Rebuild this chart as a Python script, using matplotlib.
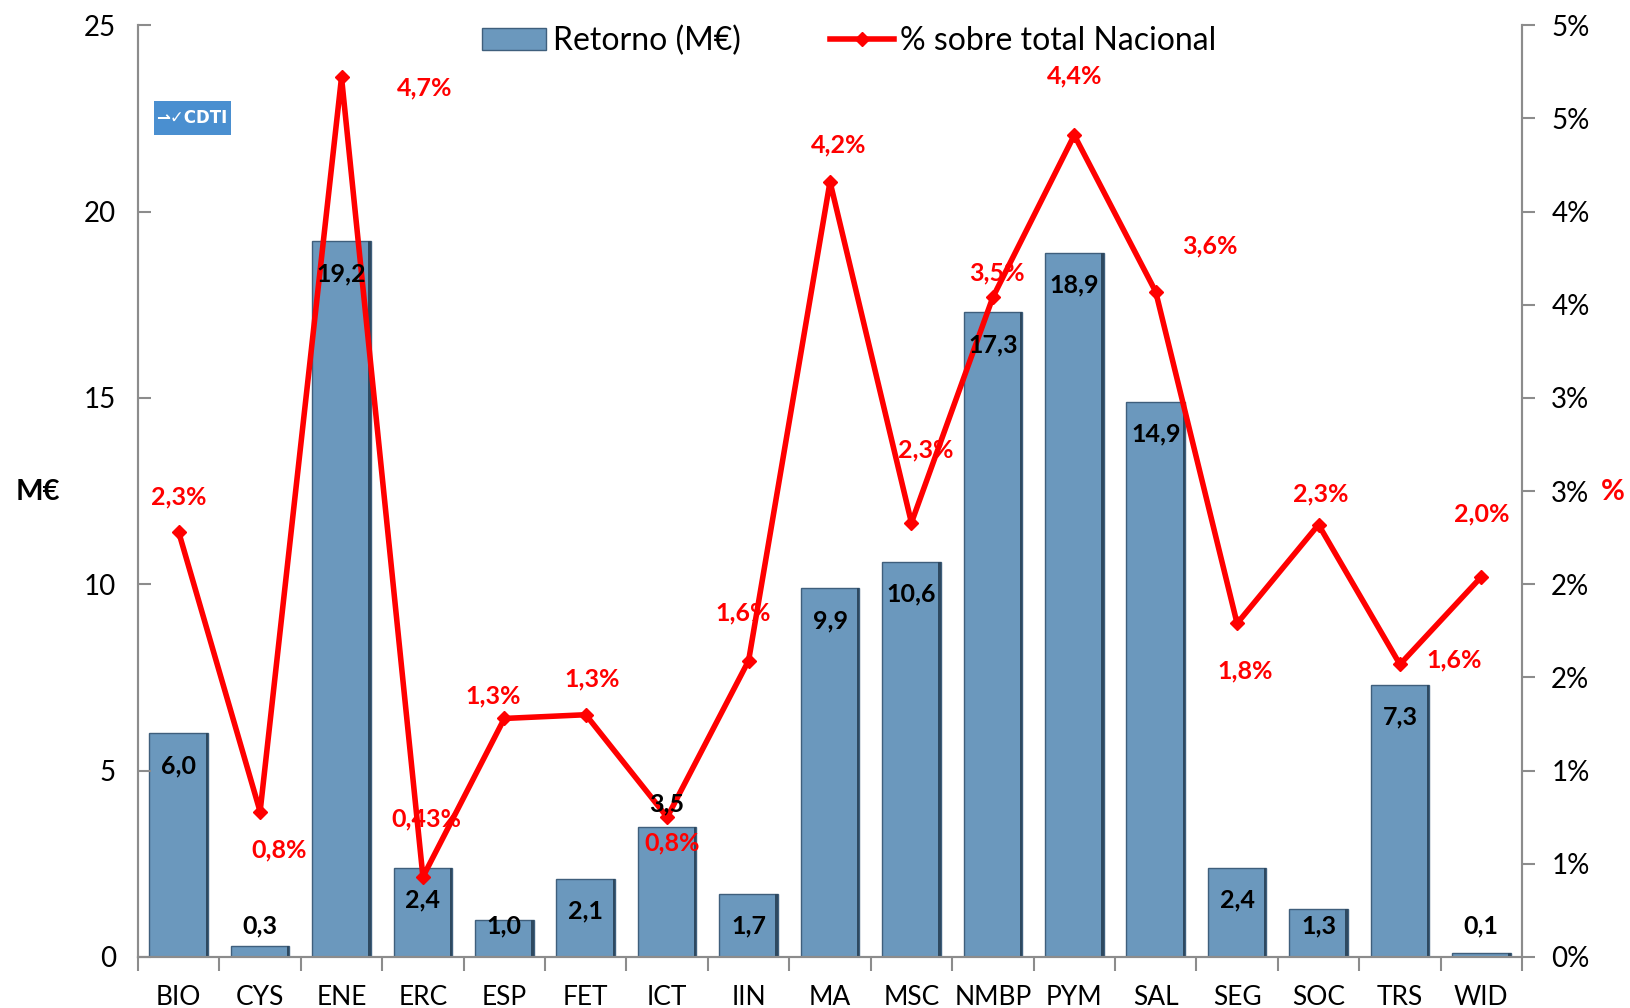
import numpy as np
import matplotlib
matplotlib.use("Agg")
import matplotlib.pyplot as plt
from matplotlib.patches import Rectangle

plt.rcParams['font.family'] = ['Lato', 'DejaVu Sans']

categorias = ["BIO", "CYS", "ENE", "ERC", "ESP", "FET", "ICT", "IIN", "MA", "MSC",
              "NMBP", "PYM", "SAL", "SEG", "SOC", "TRS", "WID"]
retorno = [6.0, 0.3, 19.2, 2.4, 1.0, 2.1, 3.5, 1.7, 9.9, 10.6, 17.3, 18.9, 14.9, 2.4, 1.3, 7.3, 0.1]
pct_nacional = [2.28, 0.78, 4.72, 0.43, 1.28, 1.30, 0.75, 1.59, 4.16, 2.33, 3.54, 4.41,
                3.57, 1.79, 2.32, 1.57, 2.04]
pct_etiquetas = ["2,3%", "0,8%", "4,7%", "0,43%", "1,3%", "1,3%", "0,8%", "1,6%", "4,2%", "2,3%",
                 "3,5%", "4,4%", "3,6%", "1,8%", "2,3%", "1,6%", "2,0%"]

# label offsets in pixels (dx, dy) for the red % labels
pct_offsets = [(0, 35), (19, -38), (83, -11), (3, 58), (-11, 23), (6, 36), (5, -26), (-5, 48),
               (9, 37), (14, 73), (4, 24), (0, 59), (54, 46), (8, -48), (2, 31), (54, 4), (0, 63)]

bar_color = "#6b98bd"
edge_color = "#3f5f7c"
red = "#ff0000"
grey = "#8c8c8c"

fig = plt.figure(figsize=(16.31, 10.08), dpi=100)
ax = fig.add_axes([0.0846, 0.0506, 0.8486, 0.9244])
ax2 = ax.twinx()
ax.set_zorder(1)
ax2.set_zorder(2)
ax.patch.set_visible(False)

x = np.arange(len(categorias))
bars = ax.bar(x, retorno, width=0.72, color=bar_color, edgecolor=edge_color, linewidth=1.0,
              label="Retorno (M€)")
# darker right edge, a bit like the bevelled bars of the original
ax.bar(x + 0.345, retorno, width=0.03, color="#2e4960", linewidth=0)
ax.set_xlim(-0.5, len(categorias) - 0.5)
ax.set_ylim(0, 25)
ax.set_yticks(np.arange(0, 26, 5))

ax2.plot(x, pct_nacional, color=red, lw=4, marker="D", markersize=7,
         label="% sobre total Nacional")
ax2.set_ylim(0, 5)
rt = np.arange(0, 5.01, 0.5)
ax2.set_yticks(rt)
ax2.set_yticklabels([f"{int(t + 0.5)}%" for t in rt])

# value labels inside the end of each bar (clamped for short bars), drawn over the line
for i, (xi, v) in enumerate(zip(x, retorno)):
    yl = max(v - 0.87, 0.83)
    if categorias[i] == "ICT":
        yl = v + 0.6
    ax2.text(xi, yl, f"{v:.1f}".replace(".", ","), ha="center", va="center",
             fontsize=18, fontweight="bold", color="black", zorder=6, transform=ax.transData)

for xi, v, lab, (dx, dy) in zip(x, pct_nacional, pct_etiquetas, pct_offsets):
    ax2.annotate(lab, (xi, v), xytext=(dx, dy), textcoords="offset pixels",
                 ha="center", va="center", fontsize=18, fontweight="bold", color=red, zorder=7)

# axes styling
for a in (ax, ax2):
    a.spines["top"].set_visible(False)
    for s in ("left", "right", "bottom"):
        a.spines[s].set_color(grey)
        a.spines[s].set_linewidth(1.5)

ax.tick_params(axis="y", direction="in", length=9, width=1.5, color=grey, labelsize=20, pad=16)
ax2.tick_params(axis="y", direction="out", length=9, width=1.5, color=grey, labelsize=20, pad=12)
ax.set_xticks(x)
ax.set_xticklabels(categorias)
ax.set_xticks(np.arange(-0.5, len(categorias), 1), minor=True)
ax.tick_params(axis="x", which="major", length=0, labelsize=19, pad=20)
ax.tick_params(axis="x", which="minor", length=10, width=1.5, color=grey)

fig.text(0.023, 0.512, "M€", fontsize=21, fontweight="bold", ha="center", va="center")
fig.text(0.989, 0.512, "%", fontsize=21, fontweight="bold", color=red, ha="center", va="center")

# CDTI logo
fig.patches.append(Rectangle((0.0945, 0.866), 0.047, 0.034, transform=fig.transFigure,
                             facecolor="#4a8fd0", edgecolor="none"))
fig.text(0.1175, 0.883, "⇀✓CDTI", fontsize=12, fontweight="bold", color="white",
         ha="center", va="center", family=["DejaVu Sans Condensed", "DejaVu Sans"])

h1, l1 = ax.get_legend_handles_labels()
h2, l2 = ax2.get_legend_handles_labels()
ax2.legend(h1 + h2, l1 + l2, loc="upper center", bbox_to_anchor=(0.514, 1.03), ncol=2,
           frameon=False, fontsize=23, handlelength=2.0, handletextpad=0.2, columnspacing=2.8)

fig.savefig("out.png", dpi=100)
